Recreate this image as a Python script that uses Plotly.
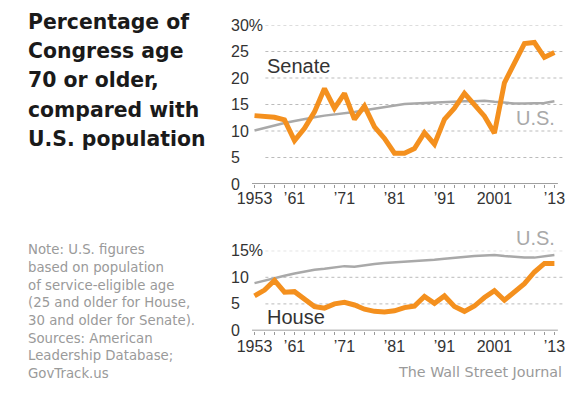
import plotly.graph_objects as go

years = list(range(1953, 2014, 2))
senate = [12.9, 12.7, 12.6, 12.1, 8.2, 10.5, 13.6, 18.0, 14.3, 17.1, 12.2, 14.7, 10.8, 8.6, 5.8, 5.8,
          6.7, 9.7, 7.5, 12.2, 14.3, 17.1, 15.0, 12.8, 9.6, 19.1, 22.8, 26.5, 26.7, 23.9, 24.8]
us_senate = [10.1, 10.6, 11.0, 11.5, 11.9, 12.3, 12.6, 12.9, 13.1, 13.4, 13.6, 13.9, 14.2, 14.5, 14.8, 15.1,
             15.2, 15.3, 15.3, 15.4, 15.5, 15.6, 15.6, 15.7, 15.5, 15.3, 15.2, 15.2, 15.2, 15.3, 15.6]
house = [6.5, 7.6, 9.4, 7.2, 7.3, 5.9, 4.5, 4.2, 5.0, 5.3, 4.8, 4.0, 3.6, 3.5, 3.7, 4.3,
         4.6, 6.4, 5.1, 6.5, 4.5, 3.6, 4.6, 6.2, 7.5, 5.7, 7.2, 8.8, 11.0, 12.6, 12.6]
us_house = [8.9, 9.4, 9.9, 10.3, 10.7, 11.1, 11.4, 11.6, 11.8, 12.1, 12.0, 12.3, 12.5, 12.7, 12.8, 13.0,
            13.1, 13.2, 13.3, 13.5, 13.7, 13.9, 14.0, 14.1, 14.2, 14.0, 13.8, 13.7, 13.7, 13.9, 14.2]

tick_years = years
tick_labels = {1953: "1953", 1961: "’61", 1971: "’71", 1981: "’81", 1991: "’91", 2001: "2001", 2013: "’13"}
top_yticks = [0, 5, 10, 15, 20, 25, 30]
bot_yticks = [0, 5, 10, 15]

title_lines = ["Percentage of", "Congress age", "70 or older,", "compared with", "U.S. population"]
note_lines = ["Note: U.S. figures", "based on population", "of service-eligible age",
              "(25 and older for House,", "30 and older for Senate).", "Sources: American",
              "Leadership Database;", "GovTrack.us"]
credit = "The Wall Street Journal"

ORANGE = "#F4901E"
USGRAY = "#A9A9A9"
W, H = 577, 394

fig = go.Figure()
fig.add_trace(go.Scatter(x=years, y=us_senate, mode="lines", line=dict(color=USGRAY, width=2.5),
                         xaxis="x", yaxis="y", hoverinfo="skip"))
fig.add_trace(go.Scatter(x=years, y=senate, mode="lines", line=dict(color=ORANGE, width=5),
                         xaxis="x", yaxis="y", hoverinfo="skip"))
fig.add_trace(go.Scatter(x=years, y=us_house, mode="lines", line=dict(color=USGRAY, width=2.5),
                         xaxis="x2", yaxis="y2", hoverinfo="skip"))
fig.add_trace(go.Scatter(x=years, y=house, mode="lines", line=dict(color=ORANGE, width=5),
                         xaxis="x2", yaxis="y2", hoverinfo="skip"))

xr = [1952.46, 2014.79]
xdom = [244 / W, 565 / W]
tickfont = dict(family="Liberation Sans, Arial", size=16, color="#333333")
xcommon = dict(range=xr, domain=xdom, showgrid=False, zeroline=False, showline=False,
               tickvals=tick_years, ticktext=[tick_labels.get(y, "") for y in tick_years],
               ticks="outside", ticklen=3, tickwidth=1, tickcolor="#999999", tickfont=tickfont)
fig.update_layout(
    width=W, height=H, margin=dict(l=0, r=0, t=0, b=0),
    paper_bgcolor="white", plot_bgcolor="white", showlegend=False,
    xaxis=dict(anchor="y", ticklabelstandoff=-3, **xcommon),
    xaxis2=dict(anchor="y2", ticklabelstandoff=-2, **xcommon),
    yaxis=dict(range=[0, 30], domain=[1 - 184 / H, 1 - 25 / H], showgrid=False, zeroline=False,
               showticklabels=False, anchor="x"),
    yaxis2=dict(range=[0, 15], domain=[1 - 330.5 / H, 1 - 250.7 / H], showgrid=False, zeroline=False,
                showticklabels=False, anchor="x2"),
)

shapes = []
anns = []
for ax, ticks in (("y", top_yticks), ("y2", bot_yticks)):
    xref = "x" if ax == "y" else "x2"
    for i, v in enumerate(ticks):
        if v == 0:
            shapes.append(dict(type="line", xref=xref, yref=ax, x0=1952.5, x1=2013.7, y0=0, y1=0,
                               line=dict(color="#808080", width=1.5), layer="below"))
        else:
            shapes.append(dict(type="line", xref="paper", yref=ax, x0=258 / W, x1=565 / W, y0=v, y1=v,
                               line=dict(color="#BBBBBB", width=1, dash="dot"), layer="below"))
        txt = f"{v}%" if i == len(ticks) - 1 else str(v)
        anns.append(dict(xref="paper", yref=ax, x=221 / W, y=v, text=txt, showarrow=False,
                         xanchor="left", yanchor="middle", font=tickfont))

lab = dict(family="Liberation Sans, Arial", size=20)
anns += [
    dict(xref="paper", yref="paper", x=258 / W, y=1 - 65.5 / H, text="Senate", showarrow=False,
         xanchor="left", yanchor="middle", font=dict(color="#333333", **lab)),
    dict(xref="paper", yref="paper", x=514 / W, y=1 - 118 / H, text="U.S.", showarrow=False,
         xanchor="left", yanchor="middle", font=dict(color=USGRAY, **lab)),
    dict(xref="paper", yref="paper", x=514 / W, y=1 - 237.5 / H, text="U.S.", showarrow=False,
         xanchor="left", yanchor="middle", font=dict(color=USGRAY, **lab)),
    dict(xref="paper", yref="paper", x=258 / W, y=1 - 317 / H, text="House", showarrow=False,
         xanchor="left", yanchor="middle", font=dict(color="#333333", **lab)),
    dict(xref="paper", yref="paper", x=566 / W, y=1 - 372 / H, text=credit,
         showarrow=False, xanchor="right", yanchor="middle",
         font=dict(family="DejaVu Sans", size=14.3, color="#9A9A9A")),
]
for i, t in enumerate(title_lines):
    anns.append(dict(xref="paper", yref="paper", x=11 / W, y=1 - (21.9 + 29.2 * i) / H, text=t,
                     showarrow=False, xanchor="left", yanchor="middle",
                     font=dict(family="DejaVu Sans", size=20.4, weight=700, color="#1a1a1a")))
for i, t in enumerate(note_lines):
    anns.append(dict(xref="paper", yref="paper", x=11.5 / W, y=1 - (249.6 + 17.7 * i) / H, text=t,
                     showarrow=False, xanchor="left", yanchor="middle",
                     font=dict(family="DejaVu Sans", size=13.3, color="#9A9A9A")))

fig.update_layout(shapes=shapes, annotations=anns)
fig.write_html("out.html", config={"displayModeBar": False},
               post_script="document.body.style.margin='0';")
